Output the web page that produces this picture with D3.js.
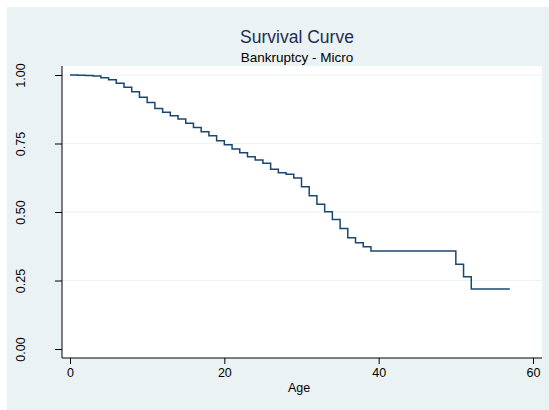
<!DOCTYPE html>
<html>
<head>
<meta charset="utf-8">
<script src="https://cdn.jsdelivr.net/npm/d3@7"></script>
<style>
  html, body { margin: 0; padding: 0; background: #ffffff; }
  svg { display: block; font-family: "Liberation Sans", Arial, Helvetica, sans-serif; }
</style>
</head>
<body>
<svg id="chart" width="549" height="410"></svg>
<script>
// Kaplan-Meier survival estimate by age (step function)
const ages = [0, 1, 2, 3, 4, 5, 6, 7, 8, 9, 10, 11, 12, 13, 14, 15, 16, 17, 18, 19,
  20, 21, 22, 23, 24, 25, 26, 27, 28, 29, 30, 31, 32, 33, 34, 35, 36, 37, 38, 39,
  50, 51, 52, 57];
const survival = [1.000, 0.999, 0.998, 0.996, 0.990, 0.983, 0.970, 0.955, 0.939, 0.919,
  0.900, 0.878, 0.864, 0.851, 0.839, 0.824, 0.808, 0.793, 0.778, 0.760,
  0.745, 0.730, 0.716, 0.702, 0.690, 0.678, 0.656, 0.643, 0.638, 0.624,
  0.592, 0.559, 0.528, 0.501, 0.473, 0.440, 0.406, 0.388, 0.373, 0.358,
  0.309, 0.264, 0.219, 0.219];

const xTicks = [0, 20, 40, 60];
const yTicks = [0, 0.25, 0.5, 0.75, 1];

const titleText = "Survival Curve";
const subtitleText = "Bankruptcy - Micro";
const xTitle = "Age";

const svg = d3.select("#chart");
const W = 549, H = 410;

// graph region background
svg.append("rect").attr("x", 7).attr("y", 7).attr("width", W - 7).attr("height", H - 7)
  .attr("fill", "#eaf2f3");

// plot region
const plot = { left: 62, right: 542, top: 66, bottom: 358 };
svg.append("rect")
  .attr("x", plot.left).attr("y", plot.top)
  .attr("width", plot.right - plot.left).attr("height", plot.bottom - plot.top)
  .attr("fill", "#ffffff");

const x = d3.scaleLinear().domain([0, 60]).range([70, 533]);
const y = d3.scaleLinear().domain([0, 1]).range([349, 75]);

// horizontal grid lines
svg.append("g").selectAll("line")
  .data(yTicks.filter(d => d > 0))
  .join("line")
  .attr("x1", plot.left).attr("x2", plot.right)
  .attr("y1", d => y(d)).attr("y2", d => y(d))
  .attr("stroke", "#eaf2f3").attr("stroke-width", 1.2);

// y axis
const yAxis = d3.axisLeft(y).tickValues(yTicks).tickFormat(d3.format(".2f"))
  .tickSize(7).tickPadding(0);
const gy = svg.append("g").attr("transform", `translate(${plot.left},0)`).call(yAxis);
gy.select(".domain").remove();
gy.append("line").attr("x1", 0).attr("x2", 0).attr("y1", plot.top).attr("y2", plot.bottom)
  .attr("stroke", "#000").attr("stroke-width", 1);
gy.selectAll(".tick line").attr("stroke", "#000");
gy.selectAll(".tick text")
  .attr("x", 0).attr("dy", null)
  .attr("transform", "translate(-41,0) rotate(-90)")
  .attr("text-anchor", "middle").attr("dominant-baseline", "central")
  .attr("font-size", 12.5).attr("fill", "#000");

// x axis
const xAxis = d3.axisBottom(x).tickValues(xTicks).tickFormat(d3.format("d"))
  .tickSize(6).tickPadding(4);
const gx = svg.append("g").attr("transform", `translate(0,${plot.bottom})`).call(xAxis);
gx.select(".domain").remove();
gx.append("line").attr("x1", plot.left).attr("x2", plot.right).attr("y1", 0).attr("y2", 0)
  .attr("stroke", "#000").attr("stroke-width", 1);
gx.selectAll(".tick line").attr("stroke", "#000");
gx.selectAll(".tick text").attr("font-size", 12.5).attr("fill", "#000");

// axis title
svg.append("text").attr("x", 299).attr("y", 392)
  .attr("text-anchor", "middle").attr("font-size", 12.5).attr("fill", "#000").text(xTitle);

// titles
svg.append("text").attr("x", 297).attr("y", 43)
  .attr("text-anchor", "middle").attr("font-size", 17.5).attr("fill", "#1e2d53").text(titleText);
svg.append("text").attr("x", 297).attr("y", 62)
  .attr("text-anchor", "middle").attr("font-size", 13.5).attr("fill", "#000").text(subtitleText);

// survival step curve
const pts = ages.map((a, i) => [a, survival[i]]);
const line = d3.line().x(d => x(d[0])).y(d => y(d[1])).curve(d3.curveStepAfter);
svg.append("path").datum(pts).attr("d", line)
  .attr("fill", "none").attr("stroke", "#1a476f").attr("stroke-width", 1.5);
</script>
</body>
</html>
